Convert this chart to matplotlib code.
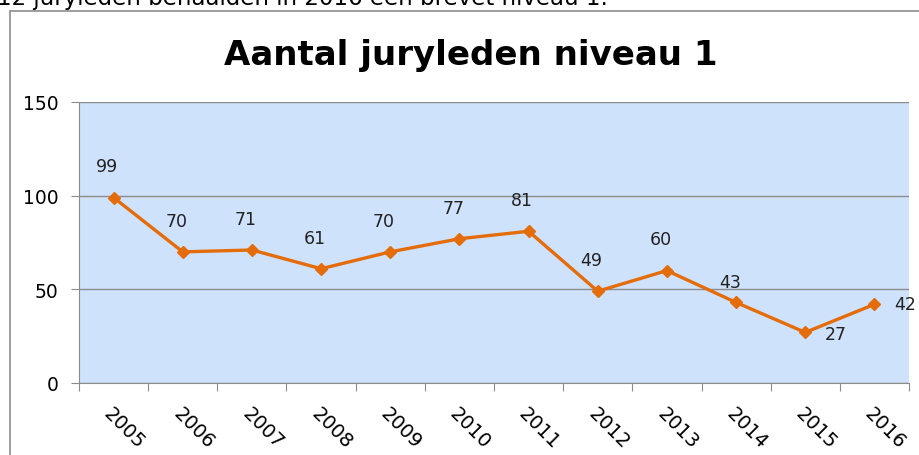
import numpy as np
import matplotlib.pyplot as plt
from matplotlib.patches import Rectangle

years = ['2005', '2006', '2007', '2008', '2009', '2010',
         '2011', '2012', '2013', '2014', '2015', '2016']
juryleden = [99, 70, 71, 61, 70, 77, 81, 49, 60, 43, 27, 42]
# where each value label sits relative to its point
label_pos = ['above'] * 9 + ['aboveleft', 'right_low', 'right']

fig = plt.figure(figsize=(9.19, 4.56), dpi=100)

# clipped sentence above the chart
fig.text(-0.003, 0.988, '12 juryleden behaalden in 2016 een brevet niveau 1.',
         fontsize=16.5, color='black', va='baseline', ha='left')

# chart border
fig.patches.append(Rectangle((10 / 919, -0.1), 1.1, (456 - 12) / 456 + 0.1,
                             transform=fig.transFigure, fill=False,
                             edgecolor='#8c8c8c', linewidth=1.2))

ax = fig.add_axes([79 / 919, 72 / 456, 830 / 919, 281 / 456])
ax.set_facecolor('#cfe2fb')

x = np.arange(len(years))
ax.plot(x, juryleden, color='#e46c0a', linewidth=2.4, marker='D',
        markersize=6, markeredgecolor='#e46c0a', zorder=3)

for xi, v, pos in zip(x, juryleden, label_pos):
    if pos == 'above':
        ax.annotate(str(v), (xi, v), xytext=(-4.5, 16), textcoords='offset points',
                    ha='center', va='bottom', fontsize=12.5, color='#222222')
    elif pos == 'aboveleft':
        ax.annotate(str(v), (xi, v), xytext=(-4, 8), textcoords='offset points',
                    ha='center', va='bottom', fontsize=12.5, color='#222222')
    elif pos == 'right_low':
        ax.annotate(str(v), (xi, v), xytext=(14, -1), textcoords='offset points',
                    ha='left', va='center', fontsize=12.5, color='#222222')
    else:
        ax.annotate(str(v), (xi, v), xytext=(14, 0), textcoords='offset points',
                    ha='left', va='center', fontsize=12.5, color='#222222')

ax.set_xlim(-0.5, len(years) - 0.5)
ax.set_ylim(0, 150)
ax.set_yticks([0, 50, 100, 150])
ax.tick_params(axis='y', labelsize=13.5, length=6, color='#8c8c8c', pad=9)
ax.yaxis.grid(True, color='#8c8c8c', linewidth=1)
ax.set_axisbelow(True)

ax.set_xticks(np.arange(len(years) + 1) - 0.5)
ax.set_xticklabels([])
ax.tick_params(axis='x', which='major', length=6, color='#8c8c8c')
ax.set_xticks(x, minor=True)
ax.set_xticklabels(years, minor=True, rotation=-45, ha='left',
                   rotation_mode='anchor', fontsize=14)
ax.tick_params(axis='x', which='minor', length=0, pad=15)

for side in ['top', 'right']:
    ax.spines[side].set_visible(False)
for side in ['left', 'bottom']:
    ax.spines[side].set_color('#8c8c8c')

fig.text(0.512, 0.878, 'Aantal juryleden niveau 1', fontsize=24.5,
         fontweight='bold', ha='center', va='center')

fig.savefig('out.png', dpi=100)
